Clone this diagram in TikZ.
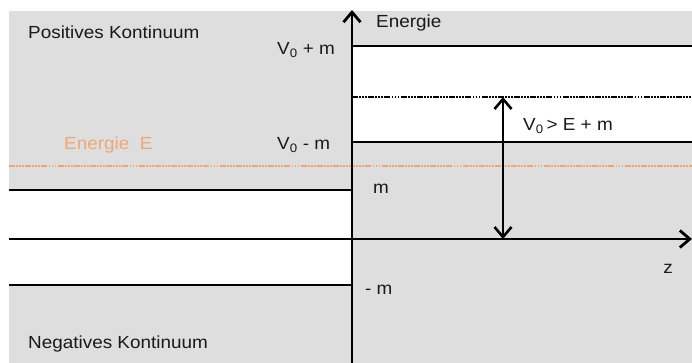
\documentclass[tikz,border=0pt]{standalone}
\usepackage{fontspec}
\setmainfont[FakeStretch=1.08]{Liberation Sans}
\usetikzlibrary{arrows.meta}
\definecolor{bandgray}{HTML}{DEDEDE}
\definecolor{energyorange}{HTML}{EFA677}
\tikzset{lbl/.style = {anchor=west, inner sep=0pt, text=black!90, font=\fontsize{17.5}{20}\selectfont},
  level/.style = {line width=2.6pt},
  barb/.tip = {Straight Barb[length=10pt,width=17pt]},
  axis/.style = {line width=2.8pt, -barb},
  dashdots/.style = {dash pattern=on 6pt off 1.2pt on 1.8pt off 1.2pt on 1.8pt off 1.2pt on 1.8pt off 1.2pt}}

\begin{document}
\begin{tikzpicture}[x=1pt, y=-1pt]
  \useasboundingbox (0,0) rectangle (692,363);
  \fill[bandgray] (9,11) rectangle (692,363);
  \fill[white] (9,190) rectangle (352,285);
  \fill[white] (352,46) rectangle (692,142);
  \coordinate (etop) at (352,10);
  \coordinate (ebot) at (352,363);
  \coordinate (zl) at (9,239);
  \coordinate (zr) at (692,239);
  \coordinate (vtop) at (503,97);
  \coordinate (vbot) at (503,239);
  \draw[level] (9,190) -- (352,190);
  \draw[level] (9,285) -- (352,285);
  \draw[level] (352,46) -- (692,46);
  \draw[level] (352,142) -- (692,142);
  \draw[level, dashdots] (352,97) -- (692,97);
  \draw[level, energyorange, dashdots] (9,166) -- (692,166);
  \draw[axis] (ebot) -- (etop);
  \draw[axis] (zl) -- (zr);
  \draw[line width=2.6pt, barb-barb] (vtop) -- (vbot);
  \node[lbl] (poskont) at (28,32) {Positives Kontinuum};
  \node[lbl] (vplus) at (277,50) {V\textsubscript{0} + m};
  \node[lbl, text=energyorange] (energiee) at (64,145) {Energie\ \ E};
  \node[lbl] (vminus) at (277,145) {V\textsubscript{0} - m};
  \node[lbl] (energie) at (376,23) {Energie};
  \node[lbl] (vcond) at (523,126) {V\textsubscript{0}\,> E + m};
  \node[lbl] (mplus) at (373,189) {m};
  \node[lbl, anchor=center] (zlabel) at (668,269) {z};
  \node[lbl] (mminus) at (365,290) {- m};
  \node[lbl] (negkont) at (28,344) {Negatives Kontinuum};
\end{tikzpicture}
\end{document}
